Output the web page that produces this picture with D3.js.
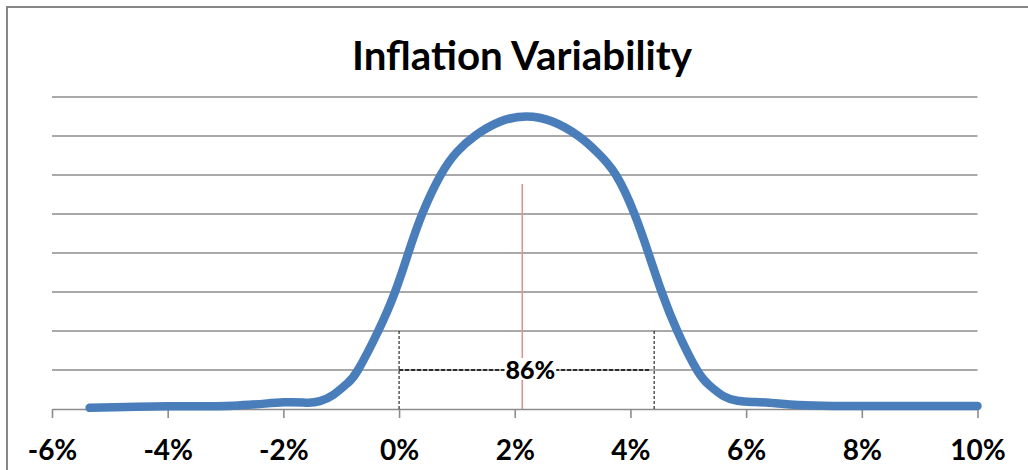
<!DOCTYPE html>
<html>
<head>
<meta charset="utf-8">
<script src="https://cdn.jsdelivr.net/npm/d3@7"></script>
<style>
  html, body { margin: 0; padding: 0; background: #ffffff; }
  svg { display: block; }
</style>
</head>
<body>
<svg id="chart" width="1028" height="470"></svg>
<script>
// ---- data ----
const title = "Inflation Variability";
const xTicks = [-6, -4, -2, 0, 2, 4, 6, 8, 10];
const xTickLabels = ["-6%", "-4%", "-2%", "0%", "2%", "4%", "6%", "8%", "10%"];
const yGrid = [1, 2, 3, 4, 5, 6, 7, 8];
const inflation = [-5.35, -4.0, -2.87, -2.0, -1.59, -1.37, -1.14, -0.9, -0.71, -0.36, -0.07, 0.16, 0.40, 0.72, 1.0, 1.31, 1.75, 2.2, 2.65, 3.1, 3.42, 3.75, 4.07, 4.31, 4.54, 4.81, 5.15, 5.37, 5.61, 5.85, 6.1, 6.4, 6.9, 7.5, 8.4, 10.0];
const density =   [0.03, 0.07, 0.085, 0.17, 0.16, 0.2, 0.36, 0.65, 1.0, 2.0, 3.0, 4.0, 5.0, 6.0, 6.59, 7.0, 7.37, 7.5, 7.37, 7.0, 6.59, 6.0, 5.0, 4.0, 3.0, 2.0, 1.0, 0.6, 0.33, 0.21, 0.18, 0.16, 0.1, 0.08, 0.08, 0.08];
const meanLine = [2.13, 5.77];           // x position, height
const bandEdges = [0, 4.41];            // dashed verticals
const bandHeight = 2;                   // height of dashed verticals
const bandArrow = [0, 4.33, 1];         // from, to, level
const bandLabel = "86%";
const bandLabelX = 2.27;

// ---- setup ----
const svg = d3.select("#chart");
const W = 1028, H = 470;
const x = d3.scaleLinear().domain([-6, 10]).range([52, 977.5]);
const y = d3.scaleLinear().domain([0, 8]).range([409, 97]);
const FONT = "Lato, 'Open Sans', 'Liberation Sans', sans-serif";
const GRID = "#8c8c8c";

svg.append("rect").attr("width", W).attr("height", H).attr("fill", "#fff");

// outer frame (extends past the picture on right and bottom)
svg.append("path")
  .attr("d", `M7,${H + 5} L7,7 L${W + 5},7`)
  .attr("fill", "none").attr("stroke", "#878787").attr("stroke-width", 2);

// gridlines
svg.append("g").selectAll("line").data(yGrid).join("line")
  .attr("x1", x(-6)).attr("x2", x(10))
  .attr("y1", d => y(d)).attr("y2", d => y(d))
  .attr("stroke", GRID).attr("stroke-width", 1.6);

// x axis
const xAxis = d3.axisBottom(x).tickValues(xTicks)
  .tickFormat((d, i) => xTickLabels[i]).tickSize(9).tickSizeOuter(0).tickPadding(14);
const gx = svg.append("g").attr("transform", `translate(0,${y(0)})`).call(xAxis);
gx.select(".domain").attr("stroke", GRID).attr("stroke-width", 1.6);
gx.selectAll(".tick line").attr("stroke", GRID).attr("stroke-width", 1.6);
gx.selectAll(".tick text")
  .attr("fill", "#000").attr("font-family", FONT).attr("font-weight", "bold")
  .attr("font-size", 28).attr("dy", null).attr("y", 51)
  .attr("dominant-baseline", "auto");

// mean line
svg.append("line")
  .attr("x1", x(meanLine[0])).attr("x2", x(meanLine[0]))
  .attr("y1", y(0)).attr("y2", y(meanLine[1]))
  .attr("stroke", "#d99594").attr("stroke-width", 1.6);

// band verticals
svg.append("g").selectAll("line").data(bandEdges).join("line")
  .attr("x1", d => x(d)).attr("x2", d => x(d))
  .attr("y1", y(0)).attr("y2", y(bandHeight))
  .attr("stroke", "#000").attr("stroke-width", 1)
  .attr("stroke-dasharray", "3,2");

// band horizontal
svg.append("line")
  .attr("x1", x(bandArrow[0])).attr("x2", x(bandArrow[1]))
  .attr("y1", y(bandArrow[2])).attr("y2", y(bandArrow[2]))
  .attr("stroke", "#000").attr("stroke-width", 1.5)
  .attr("stroke-dasharray", "4,2");

// label with white background
const lbl = svg.append("g");
const lblText = lbl.append("text")
  .attr("x", x(bandLabelX)).attr("y", y(bandArrow[2]) + 9)
  .attr("text-anchor", "middle")
  .attr("font-family", FONT).attr("font-weight", 900).attr("font-size", 25)
  .attr("fill", "#000").text(bandLabel);
const bb = lblText.node().getBBox();
lbl.insert("rect", "text")
  .attr("x", bb.x - 1).attr("y", bb.y + 4).attr("width", bb.width + 2).attr("height", bb.height - 8)
  .attr("fill", "#fff");

// curve
const line = d3.line()
  .x((d, i) => x(inflation[i]))
  .y((d, i) => y(density[i]))
  .curve(d3.curveNatural);
svg.append("path")
  .attr("d", line(density))
  .attr("fill", "none").attr("stroke", "#4a7ebb").attr("stroke-width", 8.5)
  .attr("stroke-linecap", "round").attr("stroke-linejoin", "round");

// title
const t = svg.append("text")
  .attr("x", 522).attr("y", 70)
  .attr("text-anchor", "middle")
  .attr("font-family", FONT).attr("font-weight", "bold").attr("font-size", 38)
  .attr("fill", "#000").text(title);
// fit title width to reference width
const tw = t.node().getComputedTextLength();
t.attr("font-size", 38 * 340 / tw);
</script>
</body>
</html>
